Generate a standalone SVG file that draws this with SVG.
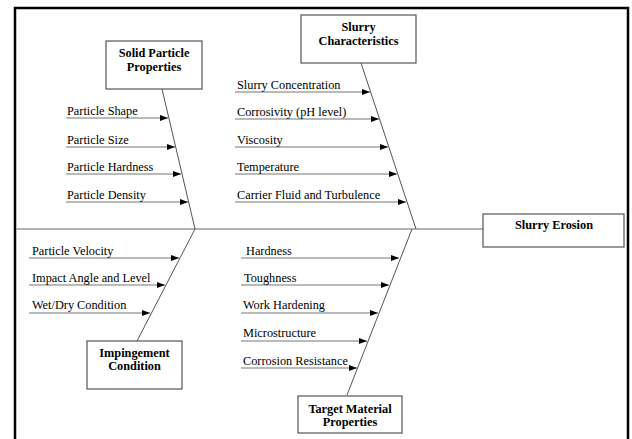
<svg xmlns="http://www.w3.org/2000/svg" width="632" height="439" viewBox="0 0 632 439">
<defs>
<marker id="ah" markerWidth="8" markerHeight="6" refX="8" refY="3" orient="auto" markerUnits="userSpaceOnUse">
<path d="M0,0 L8,3 L0,6 z" fill="#000"/>
</marker>
<style>
.box{fill:#fff;stroke:#555;stroke-width:1.2}
.head{font-family:"Liberation Serif","Times New Roman",serif;font-size:12.3px;font-weight:bold;fill:#000;text-anchor:middle}
.lbl{font-family:"Liberation Serif","Times New Roman",serif;font-size:12.3px;fill:#000}
.arr{stroke:#777;stroke-width:1.2;fill:none;marker-end:url(#ah)}
.spine{stroke:#555;stroke-width:1;fill:none}
.main{stroke:#999;stroke-width:1.5;fill:none}
</style>
</defs>
<rect width="632" height="439" fill="#fff"/>
<path d="M15,439 V8 H628 V439" fill="none" stroke="#000" stroke-width="2.5"/>

<g id="connectors">
<line class="main" x1="16" y1="229" x2="483" y2="229"/>
<line class="spine" x1="162" y1="89" x2="195" y2="229"/>
<line class="spine" x1="361" y1="63" x2="416" y2="229"/>
<line class="spine" x1="195" y1="229" x2="137" y2="341"/>
<line class="spine" x1="412" y1="229" x2="347" y2="395"/>
<line class="arr" x1="66" y1="118" x2="168" y2="118"/>
<line class="arr" x1="66" y1="147" x2="175" y2="147"/>
<line class="arr" x1="66" y1="174" x2="181" y2="174"/>
<line class="arr" x1="66" y1="202" x2="188" y2="202"/>
<line class="arr" x1="235" y1="92" x2="370" y2="92"/>
<line class="arr" x1="235" y1="119" x2="379" y2="119"/>
<line class="arr" x1="235" y1="147" x2="388" y2="147"/>
<line class="arr" x1="235" y1="174" x2="397" y2="174"/>
<line class="arr" x1="235" y1="202" x2="406" y2="202"/>
<line class="arr" x1="29" y1="258" x2="179" y2="258"/>
<line class="arr" x1="29" y1="285" x2="165" y2="285"/>
<line class="arr" x1="29" y1="313" x2="150" y2="313"/>
<line class="arr" x1="241" y1="258" x2="399" y2="258"/>
<line class="arr" x1="241" y1="285" x2="389" y2="285"/>
<line class="arr" x1="241" y1="313" x2="378" y2="313"/>
<line class="arr" x1="241" y1="341" x2="367" y2="341"/>
<line class="arr" x1="241" y1="368" x2="357" y2="368"/>
</g>

<g id="solid-particle">
<rect class="box" x="106" y="41" width="96" height="48"/>
<text class="head" x="154" y="57">Solid Particle</text>
<text class="head" x="154" y="71">Properties</text>
</g>
<g id="slurry-characteristics">
<rect class="box" x="301" y="15" width="115" height="48"/>
<text class="head" x="358.5" y="31">Slurry</text>
<text class="head" x="358.5" y="45">Characteristics</text>
</g>
<g id="impingement">
<rect class="box" x="87" y="341" width="95" height="48"/>
<text class="head" x="134.5" y="357">Impingement</text>
<text class="head" x="134.5" y="370">Condition</text>
</g>
<g id="target-material">
<rect class="box" x="298" y="396" width="104" height="37"/>
<text class="head" x="350" y="413">Target Material</text>
<text class="head" x="350" y="426">Properties</text>
</g>
<g id="slurry-erosion">
<rect class="box" x="483" y="214" width="141" height="33"/>
<text class="head" x="554" y="229">Slurry Erosion</text>
</g>

<g id="labels">
<text class="lbl" x="67" y="115">Particle Shape</text>
<text class="lbl" x="67" y="143.5">Particle Size</text>
<text class="lbl" x="67" y="170.5">Particle Hardness</text>
<text class="lbl" x="67" y="198.5">Particle Density</text>
<text class="lbl" x="237" y="88.5">Slurry Concentration</text>
<text class="lbl" x="237" y="115.5">Corrosivity (pH level)</text>
<text class="lbl" x="237" y="143.5">Viscosity</text>
<text class="lbl" x="237" y="170.5">Temperature</text>
<text class="lbl" x="237" y="198.5">Carrier Fluid and Turbulence</text>
<text class="lbl" x="32" y="254.5">Particle Velocity</text>
<text class="lbl" x="32" y="281.5">Impact Angle and Level</text>
<text class="lbl" x="32" y="309">Wet/Dry Condition</text>
<text class="lbl" x="246" y="254.5">Hardness</text>
<text class="lbl" x="244" y="281.5">Toughness</text>
<text class="lbl" x="243" y="309">Work Hardening</text>
<text class="lbl" x="243" y="337">Microstructure</text>
<text class="lbl" x="243" y="364.5">Corrosion Resistance</text>
</g>
</svg>
